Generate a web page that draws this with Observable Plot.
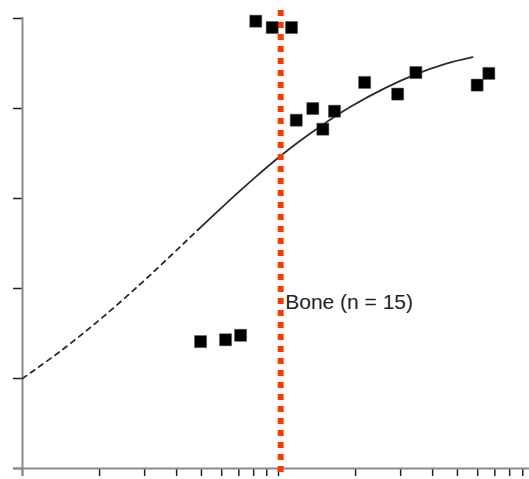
<!DOCTYPE html>
<html>
<head>
<meta charset="utf-8">
<script src="https://cdn.jsdelivr.net/npm/d3@7"></script>
<script src="https://cdn.jsdelivr.net/npm/@observablehq/plot@0.6"></script>
<style>
  html, body { margin: 0; padding: 0; background: #fff; }
  svg { display: block; }
</style>
</head>
<body>
<div id="chart"></div>
<script>
// Observed points (x on log scale, y linear)
const pointX = [4.96, 6.21, 7.11, 8.15, 9.45, 11.24, 11.73, 13.61, 14.9, 16.55, 21.7, 29.2, 34.4, 59.7, 66.3];
const pointY = [1.41, 1.43, 1.48, 4.97, 4.90, 4.90, 3.87, 4.00, 3.77, 3.97, 4.29, 4.16, 4.40, 4.26, 4.39];

// Fitted curve; dashed (extrapolated) below curveSolidFrom
const curveX = [1, 1.407, 2.017, 2.891, 3.785, 4.826, 7.105, 10.18, 14.59, 19.11, 26.18, 34.29, 44.91, 57.26];
const curveY = [1.0, 1.304, 1.660, 2.051, 2.361, 2.647, 3.091, 3.473, 3.802, 4.019, 4.229, 4.379, 4.496, 4.570];
const curveSolidFrom = 4.826;

const thresholdX = [10.2];
const labelText = ["Bone (n = 15)"];
const labelY = [1.844];

const xTicks = [1, 2, 3, 4, 5, 6, 7, 8, 9, 10, 20, 30, 40, 50, 60, 70, 80, 90];
const yTicks = [0, 1, 2, 3, 4, 5];

const points = pointX.map((x, i) => ({x, y: pointY[i]}));
const curve = curveX.map((x, i) => ({x, y: curveY[i]}));
const labels = labelText.map((t, i) => ({x: thresholdX[i], y: labelY[i], t}));

const chart = Plot.plot({
  width: 529,
  height: 479,
  marginLeft: 22,
  marginRight: 0,
  marginTop: 18,
  marginBottom: 11,
  style: {background: "#fff", fontFamily: "'Liberation Sans', Arial, sans-serif"},
  x: {type: "log", domain: [1, 95.6]},
  y: {domain: [0, 5]},
  marks: [
    Plot.axisX({ticks: xTicks, tickSize: 8, tickFormat: () => "", label: null, stroke: "#222", strokeWidth: 1.5}),
    Plot.axisY({ticks: yTicks, tickSize: 9, tickFormat: () => "", label: null, stroke: "#222", strokeWidth: 1.5}),
    Plot.ruleY([0], {stroke: "#8a8a8a", strokeWidth: 2, insetLeft: -9}),
    Plot.ruleX([1], {stroke: "#8a8a8a", strokeWidth: 2, insetTop: -1, insetBottom: -8}),
    Plot.line(curve, {x: "x", y: "y", curve: "catmull-rom", stroke: "#2a2a2a", strokeWidth: 1.8}),
    Plot.ruleX(thresholdX, {stroke: "#ff3a00", strokeWidth: 6, strokeDasharray: "6,6", insetTop: -8, insetBottom: -4}),
    Plot.dot(points, {x: "x", y: "y", symbol: "square", r: 6.8, fill: "#000", stroke: "#555", strokeWidth: 0.5}),
    Plot.text(labels, {x: "x", y: "y", text: "t", textAnchor: "start", dx: 4.5, fontSize: 21, fill: "#222", lineAnchor: "middle"})
  ]
});
document.getElementById("chart").appendChild(chart);

// Make the extrapolated left part of the fitted curve dashed
const xs = chart.scale("x");
const path = chart.querySelector('g[aria-label="line"] path');
if (path) {
  const total = path.getTotalLength();
  const xJ = xs.apply(curveSolidFrom);
  let lo = 0, hi = total;
  for (let k = 0; k < 40; k++) {
    const mid = (lo + hi) / 2;
    if (path.getPointAtLength(mid).x < xJ) lo = mid; else hi = mid;
  }
  const n = Math.max(1, Math.round(lo / 10));
  const parts = [];
  for (let k = 0; k < n - 1; k++) parts.push(5, 5);
  parts.push(5, Math.max(1, lo - 10 * (n - 1) - 5));
  parts.push(total + 10, 0);
  path.setAttribute("stroke-dasharray", parts.join(","));
}
</script>
</body>
</html>
